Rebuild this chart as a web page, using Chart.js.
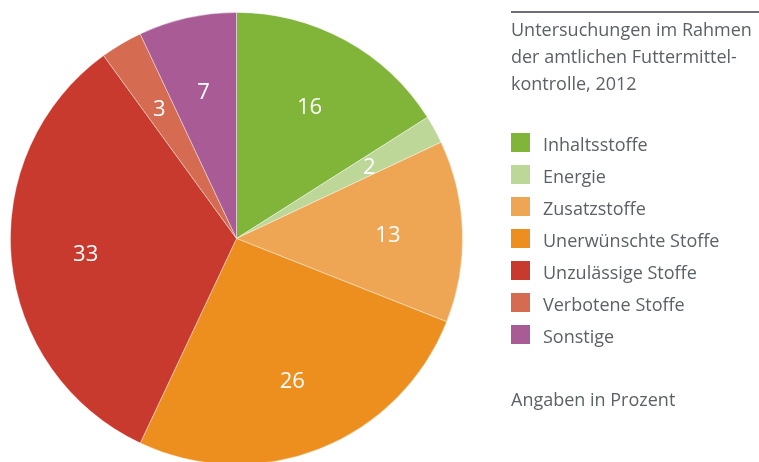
<!DOCTYPE html>
<html lang="de">
<head>
<meta charset="utf-8">
<script src="https://cdn.jsdelivr.net/npm/chart.js@4"></script>
<style>
    html, body { margin: 0; padding: 0; width: 759px; height: 462px; overflow: hidden; background: #fff; }
    body { font-family: 'Open Sans', sans-serif; color: #5c6167; }
    #contenedor { position: absolute; left: 0; top: 0; width: 759px; height: 470px; }
    #linea { position: absolute; left: 511px; top: 11px; width: 248px; height: 1.5px; background: #6e7278; }
    #titulo { position: absolute; left: 511px; top: 16px; font-size: 18px; line-height: 27px; }
    #leyenda { position: absolute; left: 511px; top: 131px; }
    .item { position: absolute; left: 0; height: 27px; white-space: nowrap; }
    .cuadro { position: absolute; left: 0; top: 2px; width: 19px; height: 19px; }
    .texto { position: absolute; left: 32px; top: 0; font-size: 18px; line-height: 27px; }
    #nota { position: absolute; left: 511px; top: 386px; font-size: 18px; line-height: 27px; }
</style>
</head>
<body>
<div id="contenedor"><canvas id="chartFutter"></canvas></div>
<div id="linea"></div>
<div id="titulo">Untersuchungen im Rahmen<br>der amtlichen Futtermittel-<br>kontrolle, 2012</div>
<div id="leyenda"></div>
<div id="nota">Angaben in Prozent</div>

<script>
const categorias = ['Inhaltsstoffe', 'Energie', 'Zusatzstoffe', 'Unerwünschte Stoffe', 'Unzulässige Stoffe', 'Verbotene Stoffe', 'Sonstige'];
const porcentajes = [16, 2, 13, 26, 33, 3, 7];
const colores = ['#80b53a', '#bdd799', '#efa654', '#ec8f1e', '#c8392e', '#d56b51', '#a95b96'];

// etiquetas blancas dentro de cada porción
const etiquetasPlugin = {
    id: 'etiquetas',
    afterDatasetsDraw(chart) {
        const ctx = chart.ctx;
        const meta = chart.getDatasetMeta(0);
        ctx.save();
        ctx.fillStyle = '#ffffff';
        ctx.font = '22px "Open Sans", sans-serif';
        ctx.textAlign = 'center';
        ctx.textBaseline = 'middle';
        meta.data.forEach((arc, i) => {
            const p = arc.getProps(['x', 'y', 'startAngle', 'endAngle', 'outerRadius'], true);
            const ang = (p.startAngle + p.endAngle) / 2;
            const r = p.outerRadius * 0.67;
            ctx.fillText(String(chart.data.datasets[0].data[i]), p.x + Math.cos(ang) * r, p.y + Math.sin(ang) * r + 2);
        });
        ctx.restore();
    }
};

function cargarLeyenda() {
    const cont = document.getElementById('leyenda');
    categorias.forEach((cat, i) => {
        const item = document.createElement('div');
        item.className = 'item';
        item.style.top = (i * 32) + 'px';
        item.innerHTML = `<span class="cuadro" style="background:${colores[i]}"></span><span class="texto">${cat}</span>`;
        cont.appendChild(item);
    });
}

document.addEventListener('DOMContentLoaded', () => {
    cargarLeyenda();

    const ctx = document.getElementById('chartFutter').getContext('2d');
    new Chart(ctx, {
        type: 'pie',
        data: {
            labels: categorias,
            datasets: [{
                data: porcentajes,
                backgroundColor: colores,
                borderColor: 'rgba(255,255,255,0.5)',
                borderWidth: 0.8
            }]
        },
        options: {
            responsive: true,
            maintainAspectRatio: false,
            animation: false,
            layout: { padding: { left: 10, top: 12, right: 296, bottom: 5 } },
            plugins: {
                legend: { display: false },
                tooltip: { enabled: false }
            }
        },
        plugins: [etiquetasPlugin]
    });
});
</script>
</body>
</html>
